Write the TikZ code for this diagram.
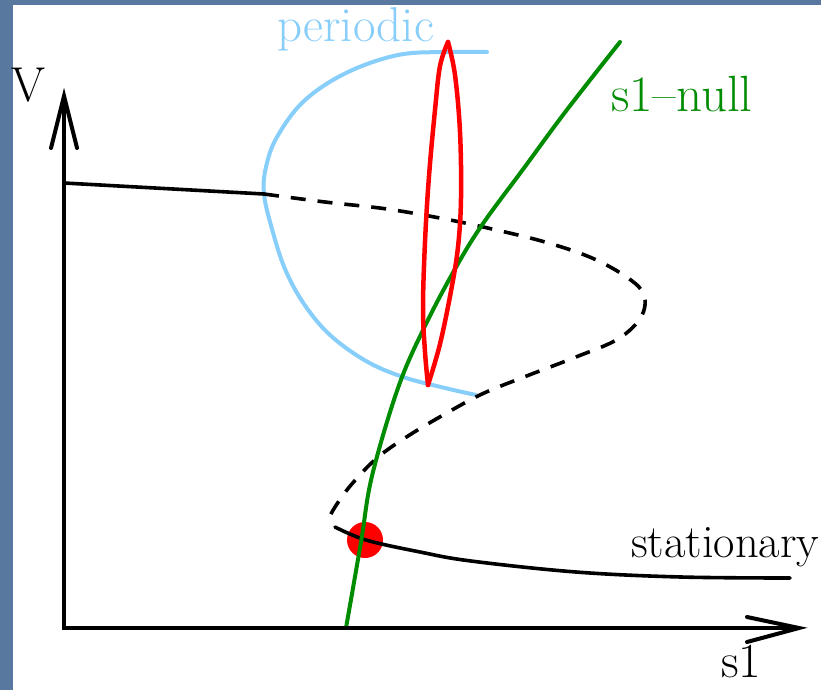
\documentclass[tikz,border=0pt]{standalone}
\usepackage{fontspec}
\definecolor{slideblue}{RGB}{88,120,160}
\definecolor{ltblue}{RGB}{135,206,250}
\definecolor{nullgreen}{RGB}{0,140,0}
\begin{document}
\begin{tikzpicture}[x=1pt,y=-1pt,
  lbl/.style={inner sep=0pt, anchor=base west, font=\rmfamily\fontsize{49}{54}\selectfont},
  curve/.style={line width=3.6pt, line cap=round, line join=round},
  barb/.style={line width=4pt, line cap=round, line join=miter}]
\fill[slideblue] (0,0) rectangle (821,690);
\fill[white] (13,5) rectangle (821,690);
\useasboundingbox (0,0) rectangle (821,690);

% periodic branch
\draw[curve, ltblue, line width=4pt] plot[smooth, tension=0.6] coordinates {(487,52) (448,52) (398,55) (346,73) (304,101) (277,137) (266,167) (264,194) (272,229) (285,269) (304,304) (330,335) (366,361) (403,377) (445,388) (476,395)};

% stationary branch
\draw[curve] (64,183) -- (264,194);
\draw[curve, line cap=butt, dash pattern=on 15pt off 12pt] plot[smooth, tension=0.6] coordinates {(264,194) (325,202) (387,209) (445,219) (492,229) (545,242) (592,258) (628,278) (644,295) (641,317) (618,339) (576,357) (524,377) (482,394) (445,414) (408,436) (377,458) (351,485) (335,507) (328,520)};

% stable point
\fill[red] (365,540) circle (18);
\draw[curve] plot[smooth, tension=0.6] coordinates {(335,527) (366,540) (420,552) (471,561) (576,572) (681,577) (790,578)};

% s1 nullcline
\draw[curve, nullgreen, line width=4pt] plot[smooth, tension=0.6] coordinates {(346,628) (361,542) (372,476) (398,388) (424,328) (455,269) (482,225) (524,168) (566,111) (620,42)};

% periodic orbit
\draw[curve, red, line width=4.5pt] plot[smooth, tension=0.6] coordinates {(448,42) (440,66) (435,110) (429,176) (425,242) (423,308) (425,352) (428,385)};
\draw[curve, red, line width=4.5pt] plot[smooth, tension=0.6] coordinates {(428,385) (440,344) (451,291) (458,247) (461,198) (460,132) (455,75) (448,42)};

% axes
\coordinate (vtip) at (64,96);
\coordinate (orig) at (64,628);
\coordinate (htip) at (799,628);
\draw[line width=3.5pt] (vtip) -- (orig) -- (htip);
\coordinate (vb1) at (51,148);
\coordinate (vb2) at (77,148);
\coordinate (hb1) at (747,617);
\coordinate (hb2) at (747,642);
\draw[barb] (vb1) -- (vtip) -- (vb2);
\draw[barb] (hb1) -- (htip) -- (hb2);

% labels
\node[lbl] (vlab) at (11,102) {V};
\node[lbl] (s1lab) at (721,677) {s1};
\node[lbl, text=ltblue] (perlab) at (277,42) {periodic};
\node[lbl, text=nullgreen, font=\rmfamily\fontsize{51}{56}\selectfont] (nulllab) at (611,112) {s1–null};
\node[lbl, font=\rmfamily\fontsize{46.5}{52}\selectfont] (statlab) at (631,557) {stationary};
\end{tikzpicture}
\end{document}
